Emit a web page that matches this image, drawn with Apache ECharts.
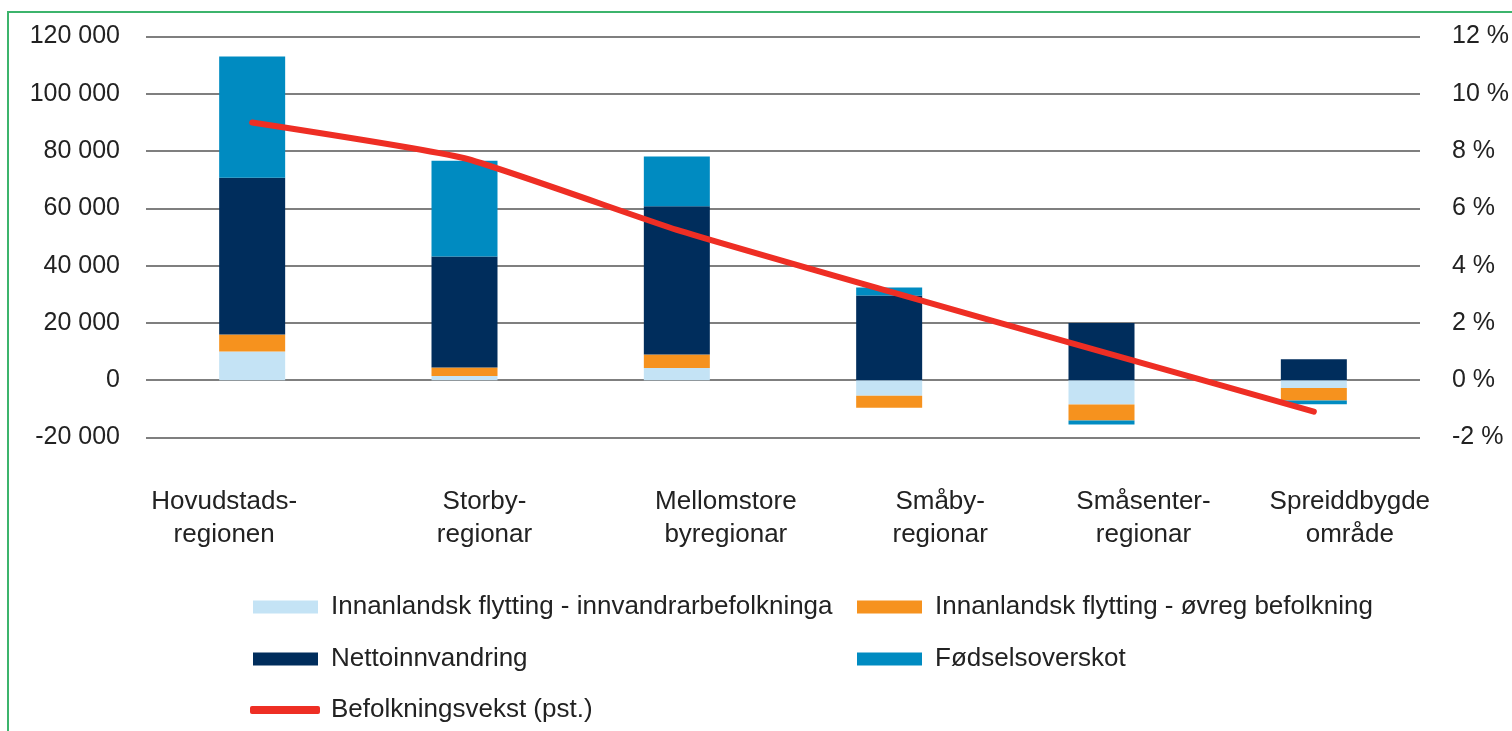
<!DOCTYPE html>
<html>
<head>
<meta charset="utf-8">
<script src="https://cdn.jsdelivr.net/npm/echarts@6/dist/echarts.min.js"></script>
<style>
  html, body { margin: 0; padding: 0; background: #fff; overflow: hidden; }
  #wrap { position: relative; width: 1512px; height: 731px; overflow: hidden; }
  #frame { position: absolute; left: 7px; top: 11px; width: 3000px; height: 3000px;
           border: 2.5px solid #3cb46c; box-sizing: border-box; pointer-events: none; }
  #chart { position: absolute; left: 0; top: 0; width: 1512px; height: 731px; }
</style>
</head>
<body>
<div id="wrap">
  <div id="chart"></div>
  <div id="frame"></div>
</div>
<script>
// ---- data ----
const categories = ['Hovudstads-\nregionen', 'Storby-\nregionar', 'Mellomstore\nbyregionar', 'Småby-\nregionar', 'Småsenter-\nregionar', 'Spreiddbygde\nområde'];
const innvandrarFlytting = [10000, 1500, 4300, -5400, -8500, -2700];
const ovregFlytting = [6000, 2900, 4700, -4200, -5600, -4400];
const nettoinnvandring = [54700, 38800, 51700, 29600, 20000, 7300];
const fodselsoverskot = [42300, 33400, 17400, 2800, -1400, -1300];
const befolkningsvekst = [9.0, 7.75, 5.25, 3.1, 1.0, -1.1];
const leftTicks = { min: -20000, max: 120000, interval: 20000 };
const rightTicks = { min: -2, max: 12, interval: 2 };
const seriesNames = ['Innanlandsk flytting - innvandrarbefolkninga', 'Innanlandsk flytting - øvreg befolkning', 'Nettoinnvandring', 'Fødselsoverskot', 'Befolkningsvekst (pst.)'];

const FONT = '"Liberation Sans", Arial, sans-serif';
const TXT = '#222222';
// horizontal shift of category labels relative to bar centre (px)
const labelShift = [-28, 20, 49, 51, 42, 36];
const rich = {};
labelShift.forEach((s, i) => {
  rich['c' + i] = {
    fontSize: 26, fontFamily: FONT, color: TXT, lineHeight: 33,
    padding: s >= 0 ? [0, 0, 0, 2 * s] : [0, -2 * s, 0, 0]
  };
});

function fmtThousands(v) {
  const neg = v < 0;
  let s = String(Math.abs(v));
  s = s.replace(/\B(?=(\d{3})+(?!\d))/g, ' ');
  return (neg ? '-' : '') + s;
}

const chart = echarts.init(document.getElementById('chart'), null, { renderer: 'canvas' });
const barCommon = { type: 'bar', stack: 'total', barWidth: 66, xAxisIndex: 0, yAxisIndex: 0 };

chart.setOption({
  animation: false,
  backgroundColor: '#ffffff',
  grid: { left: 146, right: 92, top: 36.5, height: 401, containLabel: false },
  xAxis: {
    type: 'category',
    data: categories,
    axisLine: { show: false, onZero: false },
    axisTick: { show: false },
    splitLine: { show: false },
    axisLabel: {
      margin: 48,
      interval: 0,
      formatter: function (v, i) {
        return v.split('\n').map(l => '{c' + i + '|' + l + '}').join('\n');
      },
      rich: rich
    }
  },
  yAxis: [
    {
      type: 'value', min: leftTicks.min, max: leftTicks.max, interval: leftTicks.interval,
      axisLine: { show: false }, axisTick: { show: false },
      splitLine: { show: true, lineStyle: { color: '#555555', width: 1.6 } },
      axisLabel: { margin: 26, fontSize: 25, fontFamily: FONT, color: TXT, formatter: fmtThousands }
    },
    {
      type: 'value', min: rightTicks.min, max: rightTicks.max, interval: rightTicks.interval,
      position: 'right',
      axisLine: { show: false }, axisTick: { show: false }, splitLine: { show: false },
      axisLabel: { margin: 32, fontSize: 25, fontFamily: FONT, color: TXT, formatter: v => v + ' %' }
    }
  ],
  legend: [
    {
      orient: 'vertical', left: 248, top: 589, itemWidth: 65, itemHeight: 13, itemGap: 26,
      icon: 'rect', data: [seriesNames[0], seriesNames[2]],
      textStyle: { fontSize: 26, fontFamily: FONT, color: TXT, lineHeight: 26, padding: [0, 0, 0, 8] }
    },
    {
      orient: 'vertical', left: 852, top: 589, itemWidth: 65, itemHeight: 13, itemGap: 26,
      icon: 'rect', data: [seriesNames[1], seriesNames[3]],
      textStyle: { fontSize: 26, fontFamily: FONT, color: TXT, lineHeight: 26, padding: [0, 0, 0, 8] }
    },
    {
      orient: 'vertical', left: 245, top: 692, itemWidth: 70, itemHeight: 8, itemGap: 26,
      data: [{ name: seriesNames[4], icon: 'roundRect' }],
      textStyle: { fontSize: 26, fontFamily: FONT, color: TXT, lineHeight: 26, padding: [0, 0, 0, 6] }
    }
  ],
  series: [
    Object.assign({}, barCommon, { name: seriesNames[0], data: innvandrarFlytting, itemStyle: { color: '#c4e3f5' } }),
    Object.assign({}, barCommon, { name: seriesNames[1], data: ovregFlytting, itemStyle: { color: '#f6921e' } }),
    Object.assign({}, barCommon, { name: seriesNames[2], data: nettoinnvandring, itemStyle: { color: '#002d5c' } }),
    Object.assign({}, barCommon, { name: seriesNames[3], data: fodselsoverskot, itemStyle: { color: '#008bc1' } }),
    {
      name: seriesNames[4], type: 'line', yAxisIndex: 1, data: befolkningsvekst,
      symbol: 'none', smooth: 0.15, z: 5,
      lineStyle: { color: '#ee2e24', width: 6, cap: 'round' },
      itemStyle: { color: '#ee2e24' }
    }
  ]
});
</script>
</body>
</html>
